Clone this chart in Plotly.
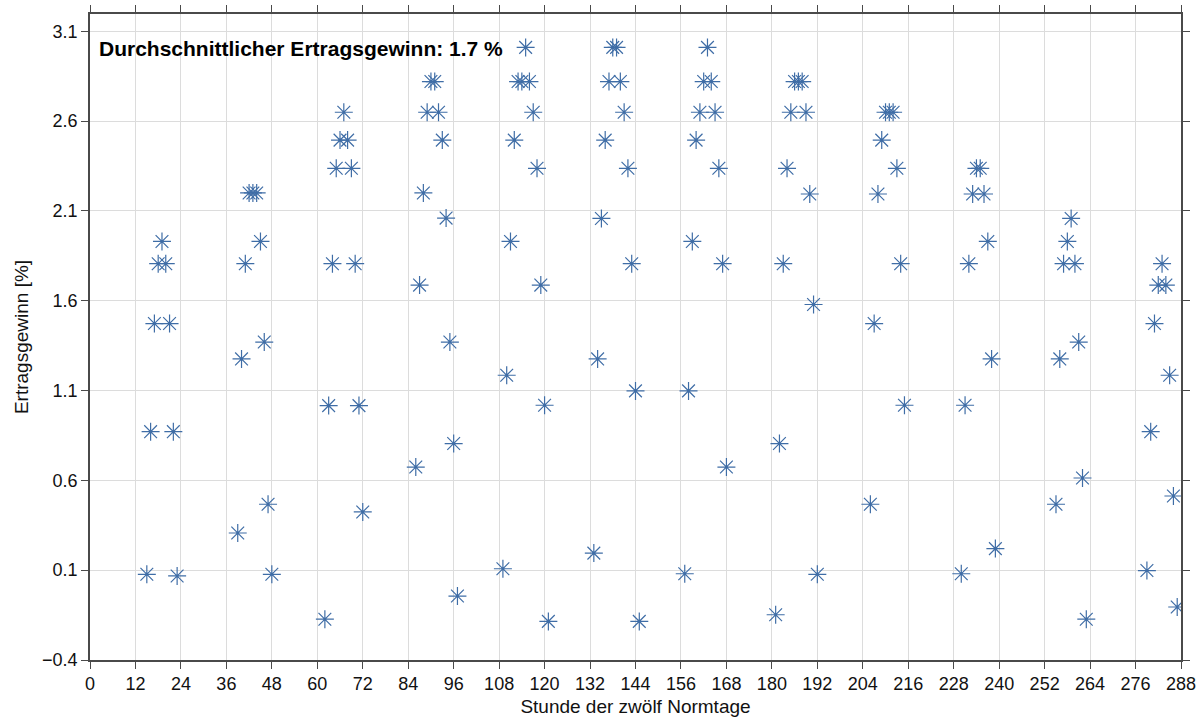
import plotly.graph_objects as go

# Hourly yield gain per normal day (hour index across the twelve days)
day01_hours = [15, 16, 17, 18, 19, 20, 21, 22, 23]
day01_gain = [0.077, 0.871, 1.473, 1.806, 1.93, 1.806, 1.473, 0.871, 0.068]

day02_hours = [39, 40, 41, 42, 43, 44, 45, 46, 47, 48]
day02_gain = [0.307, 1.276, 1.806, 2.2, 2.2, 2.2, 1.93, 1.37, 0.467, 0.077]

day03_hours = [62, 63, 64, 65, 66, 67, 68, 69, 70, 71, 72]
day03_gain = [-0.173, 1.016, 1.806, 2.337, 2.494, 2.649, 2.494, 2.337, 1.806, 1.016, 0.424]

day04_hours = [86, 87, 88, 89, 90, 91, 92, 93, 94, 95, 96, 97]
day04_gain = [0.674, 1.687, 2.2, 2.649, 2.82, 2.82, 2.649, 2.494, 2.06, 1.37, 0.805, -0.044]

day05_hours = [109, 110, 111, 112, 113, 114, 115, 116, 117, 118, 119, 120, 121]
day05_gain = [0.108, 1.185, 1.93, 2.494, 2.82, 2.82, 3.01, 2.82, 2.649, 2.337, 1.687, 1.018, -0.185]

day06_hours = [133, 134, 135, 136, 137, 138, 139, 140, 141, 142, 143, 144, 145]
day06_gain = [0.195, 1.276, 2.058, 2.494, 2.82, 3.01, 3.01, 2.82, 2.649, 2.337, 1.806, 1.098, -0.185]

day07_hours = [157, 158, 159, 160, 161, 162, 163, 164, 165, 166, 167, 168]
day07_gain = [0.08, 1.098, 1.93, 2.494, 2.649, 2.82, 3.01, 2.82, 2.649, 2.337, 1.806, 0.674]

day08_hours = [181, 182, 183, 184, 185, 186, 187, 188, 189, 190, 191, 192]
day08_gain = [-0.148, 0.805, 1.806, 2.337, 2.649, 2.82, 2.82, 2.82, 2.649, 2.194, 1.579, 0.077]

day09_hours = [206, 207, 208, 209, 210, 211, 212, 213, 214, 215]
day09_gain = [0.467, 1.473, 2.194, 2.494, 2.649, 2.649, 2.649, 2.337, 1.806, 1.018]

day10_hours = [230, 231, 232, 233, 234, 235, 236, 237, 238, 239]
day10_gain = [0.08, 1.018, 1.806, 2.194, 2.337, 2.337, 2.194, 1.93, 1.276, 0.22]

day11_hours = [255, 256, 257, 258, 259, 260, 261, 262, 263]
day11_gain = [0.467, 1.276, 1.806, 1.93, 2.058, 1.806, 1.37, 0.613, -0.173]

day12_hours = [279, 280, 281, 282, 283, 284, 285, 286, 287]
day12_gain = [0.098, 0.871, 1.473, 1.687, 1.806, 1.687, 1.185, 0.513, -0.105]

mean_gain_label = "Durchschnittlicher Ertragsgewinn: 1.7 %"

x_ticks = list(range(0, 289, 12))
y_ticks = [-0.4, 0.1, 0.6, 1.1, 1.6, 2.1, 2.6, 3.1]

hours = (day01_hours + day02_hours + day03_hours + day04_hours + day05_hours + day06_hours
         + day07_hours + day08_hours + day09_hours + day10_hours + day11_hours + day12_hours)
gains = (day01_gain + day02_gain + day03_gain + day04_gain + day05_gain + day06_gain
         + day07_gain + day08_gain + day09_gain + day10_gain + day11_gain + day12_gain)

marker_color = "#3f6da6"
axis_color = "#4a4a4a"
grid_color = "#dcdcdc"
font_family = "Liberation Sans, Arial, sans-serif"

fig = go.Figure()
fig.add_trace(go.Scatter(
    x=hours, y=gains, mode="markers",
    marker=dict(symbol="asterisk-open", size=15, color=marker_color,
                line=dict(width=1.2, color=marker_color)),
    showlegend=False,
))

fig.add_annotation(
    text=mean_gain_label, xref="paper", yref="paper",
    x=0.006, y=0.946, xanchor="left", yanchor="middle", showarrow=False,
    font=dict(family=font_family, size=21, color="#000000", weight="bold"),
)

axis_common = dict(
    showline=True, linecolor=axis_color, linewidth=1.5, mirror="ticks",
    ticks="outside", ticklen=7, tickwidth=1.2, tickcolor=axis_color,
    showgrid=True, gridcolor=grid_color, gridwidth=1, zeroline=False,
    automargin=False,
    tickfont=dict(family=font_family, size=18, color="#111111"),
)

fig.update_layout(
    width=1200, height=719,
    margin=dict(l=90, r=19, t=14, b=59),
    paper_bgcolor="white", plot_bgcolor="white",
    font=dict(family=font_family, color="#111111"),
    xaxis=dict(range=[0, 288], tickvals=x_ticks,
               title=dict(text="Stunde der zwölf Normtage", standoff=6,
                          font=dict(family=font_family, size=19)),
               **axis_common),
    yaxis=dict(range=[-0.4, 3.196], tickvals=y_ticks,
               ticktext=[f"{v:.1f}".replace("-", "\u2212") for v in y_ticks],
               title=dict(text="Ertragsgewinn [%]", standoff=8,
                          font=dict(family=font_family, size=19)),
               **axis_common),
)

fig.write_html("out.html")
